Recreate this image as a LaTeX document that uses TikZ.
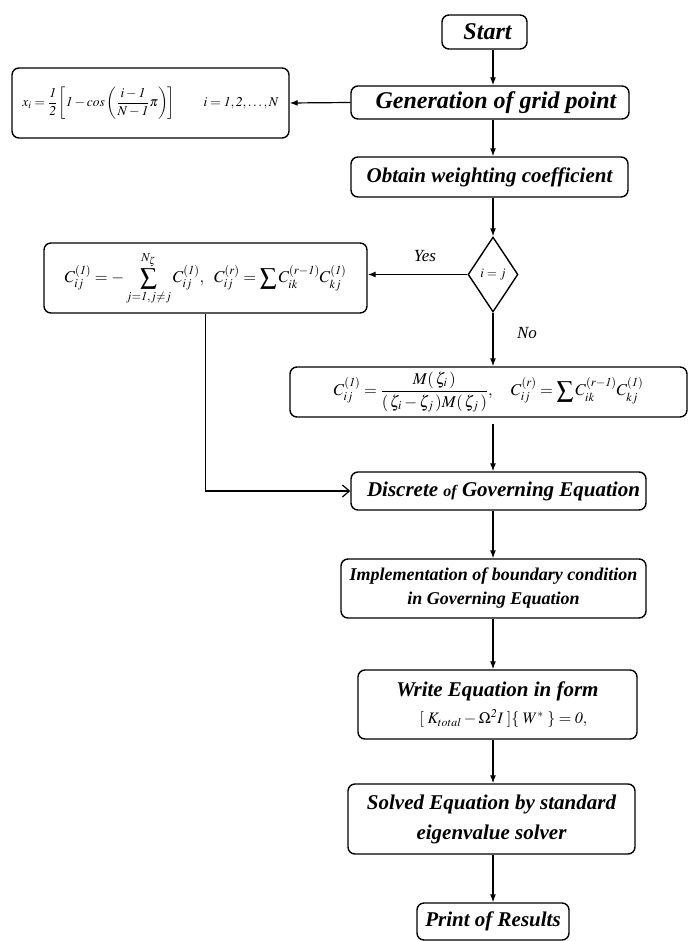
\documentclass[tikz,border=0pt]{standalone}
\usepackage{amsmath}
\usepackage{mathptmx}
\usepackage{fontspec}
\setmainfont{Liberation Serif}
\usetikzlibrary{shapes.geometric,arrows.meta,calc}
\begin{document}
\begin{tikzpicture}[x=1pt,y=-1pt,
  box/.style={draw, line width=1.4pt, rounded corners=7pt, inner sep=0pt, align=center},
  arr/.style={line width=1.2pt, -{Latex[length=8pt,width=6pt]}},
  bi/.style={font=\fontsize{#1}{#1}\selectfont\bfseries\itshape},
  it/.style={font=\fontsize{#1}{#1}\selectfont\itshape}]
\useasboundingbox (0,0) rectangle (689,941);
\coordinate (col) at (493,0);

\node[box, bi=24, minimum width=85pt, minimum height=34pt] (start) at (484.5,32) {\hspace*{6pt}Start};
\node[box, bi=24, minimum width=278pt, minimum height=33pt] (gen) at (490,102.5) {\hspace*{12pt}Generation of grid point};
\node[box, minimum width=277pt, minimum height=70pt, font=\fontsize{13.5}{16}\selectfont] (f1) at (150.5,103)
  {$x_i=\dfrac{\mathit{1}}{\mathit{2}}\left[\mathit{1}-\mathit{cos}\left(\dfrac{i-\mathit{1}}{N-\mathit{1}}\pi\right)\right]\qquad i=\mathit{1},\mathit{2},\dots,N$};
\node[box, bi=21, minimum width=277pt, minimum height=40pt] (obt) at (489.5,177) {Obtain weighting coefficient};
\node[draw, line width=1.4pt, diamond, aspect=0.67, inner sep=0pt, minimum width=50pt, minimum height=75pt, font=\fontsize{13}{15}\selectfont] (dia) at (493,274.5) {$i=j$};
\node[box, minimum width=323pt, minimum height=70pt, font=\fontsize{16.5}{19}\selectfont] (f2) at (205.5,278)
  {$\displaystyle C_{ij}^{(\mathit{1})}=-\sum_{j=\mathit{1},j\neq j}^{N_\zeta} C_{ij}^{(\mathit{1})},\ \ C_{ij}^{(r)}=\sum C_{ik}^{(r-\mathit{1})}C_{kj}^{(\mathit{1})}$};
\node[box, minimum width=397pt, minimum height=50pt, font=\fontsize{16.5}{19}\selectfont] (f3) at (488.5,392)
  {$\displaystyle C_{ij}^{(\mathit{1})}=\frac{M(\,\zeta_i\,)}{(\,\zeta_i-\zeta_j\,)M(\,\zeta_j\,)},\quad C_{ij}^{(r)}=\sum C_{ik}^{(r-\mathit{1})}C_{kj}^{(\mathit{1})}$};
\node[box, bi=21, minimum width=295pt, minimum height=38pt] (disc) at (498.5,491) {\hspace*{10pt}Discrete {\fontsize{16}{16}\selectfont of} Governing Equation};
\node[box, bi=18, minimum width=305pt, minimum height=59pt] (impl) at (493.5,588.5) {Implementation of boundary condition\\[6pt]in Governing Equation};
\node[box, bi=21, minimum width=279pt, minimum height=69pt] (write) at (497.5,704.5) {Write Equation in form\\[6pt]{\fontsize{16}{16}\selectfont\mdseries\hspace*{12pt}$[\;K_{total}-\Omega^{\mathit{2}} I\;]\{\;W^{*}\;\}=\mathit{0},$}};
\node[box, bi=21, minimum width=287pt, minimum height=70pt] (solv) at (491.5,819) {Solved Equation by standard\\[9pt]eigenvalue solver};
\node[box, bi=21, minimum width=152pt, minimum height=37pt] (print) at (493,921.5) {Print of Results};

\node[it=17] (yes) at (425,256) {Yes};
\node[it=17] (no) at (527,333) {No};

\draw[arr] (start.south -| col) -- (gen.north -| col);
\draw[arr] (gen.west) -- (f1.east);
\draw[arr] (gen.south -| col) -- (obt.north -| col);
\draw[arr] (obt.south -| col) -- (dia.north);
\draw[arr] (dia.west) -- (dia.west -| f2.east);
\draw[arr] (dia.south) -- (f3.north -| dia.south);
\draw[arr, shorten <=6pt] (f3.south -| col) -- (disc.north -| col);
\draw[line width=1.2pt, -{Straight Barb[length=7pt,width=12pt]}] (f2.south) |- (disc.west);
\draw[arr] (disc.south -| col) -- (impl.north -| col);
\draw[arr] (impl.south -| col) -- (write.north -| col);
\draw[arr] (write.south -| col) -- (solv.north -| col);
\draw[arr] (solv.south -| col) -- (print.north -| col);
\end{tikzpicture}
\end{document}
